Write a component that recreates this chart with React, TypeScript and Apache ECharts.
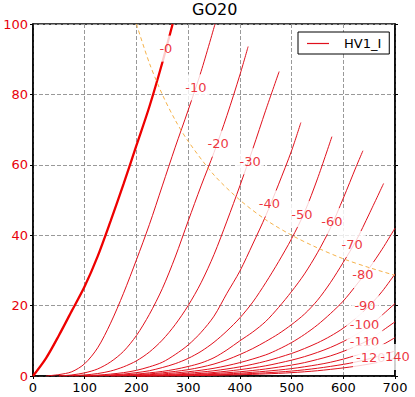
import React, { useEffect, useRef } from "react";
import * as echarts from "echarts";

// Anode voltage (V) vs anode current (mA) for each grid voltage
const curve0: [number, number][] = [[0,0],[25,5],[50,11.5],[75,18.5],[100,25.5],[125,34],[150,44],[175,54.5],[200,65.5],[225,76.5],[250,89],[270,100]];
const curveM10: [number, number][] = [[25,0],[50,0.4],[75,1.2],[100,3.5],[125,8],[150,15],[175,23.5],[200,33],[225,43],[250,54],[275,65],[300,75.5],[325,86.5],[352,100]];
const curveM20: [number, number][] = [[50,0],[75,0.3],[100,0.9],[125,2],[150,4],[175,7],[200,11.5],[225,17.5],[250,24.8],[275,33.8],[300,44],[325,54],[350,63.5],[375,74],[400,85.5],[416,93.6]];
const curveM30: [number, number][] = [[50,0],[75,0.1],[100,0.3],[125,0.7],[150,1.4],[175,2.6],[200,4.3],[225,6.8],[250,10.2],[275,14.6],[300,20],[325,26.5],[350,34.5],[375,44],[400,54],[425,64.5],[450,75.5],[476,86.5]];
const curveM40: [number, number][] = [[75,0],[100,0.1],[125,0.25],[150,0.55],[175,0.95],[200,1.6],[225,2.6],[250,3.9],[275,6.1],[300,8.8],[325,12.4],[350,17],[375,23.5],[400,29.8],[425,37.5],[450,45.5],[475,54.5],[500,64],[518,72]];
const curveM50: [number, number][] = [[100,0],[125,0.1],[150,0.3],[175,0.55],[200,0.95],[225,1.5],[250,2.4],[275,3.5],[300,5],[325,7],[350,9.6],[375,12.8],[400,16.5],[425,21],[450,26.5],[475,32.5],[500,39],[525,46.5],[550,56],[578,68]];
const curveM60: [number, number][] = [[100,0],[150,0.15],[200,0.55],[225,0.9],[250,1.3],[275,1.9],[300,2.7],[325,3.7],[350,5.2],[375,7.4],[400,10],[425,12.5],[450,15.5],[475,19.5],[500,24],[525,29],[550,35],[575,42],[600,50.5],[625,59.5],[638,64]];
const curveM70: [number, number][] = [[100,0],[150,0.1],[200,0.35],[225,0.6],[250,0.9],[275,1.3],[300,1.8],[325,2.5],[350,3.4],[375,4.6],[400,6.1],[425,7.8],[450,9.8],[475,12],[500,14.6],[525,17.6],[550,21.5],[575,26.5],[600,32.3],[625,38.5],[650,46],[678,54.7]];
const curveM80: [number, number][] = [[150,0],[200,0.2],[250,0.6],[300,1.2],[350,2.2],[400,3.8],[450,6],[475,7.6],[500,9.5],[525,11.8],[550,14.5],[575,17.7],[600,21.3],[625,25.8],[650,30.6],[675,36],[700,42]];
const curveM90: [number, number][] = [[150,0],[200,0.1],[250,0.35],[300,0.8],[350,1.5],[400,2.6],[450,4.2],[500,6.4],[525,7.8],[550,9.4],[575,11.3],[600,13.6],[625,16.5],[650,19.9],[675,24],[700,29]];
const curveM100: [number, number][] = [[200,0],[250,0.2],[300,0.5],[350,1],[400,1.8],[450,2.9],[500,4.5],[525,5.5],[550,6.7],[575,8.1],[600,9.8],[625,11.8],[650,14.2],[675,17.3],[700,20.6]];
const curveM110: [number, number][] = [[200,0],[250,0.12],[300,0.35],[350,0.7],[400,1.2],[450,2],[500,3.1],[525,3.8],[550,4.7],[575,5.7],[600,7],[625,8.5],[650,10.3],[675,12.8],[700,15.4]];
const curveM120: [number, number][] = [[200,0],[250,0.08],[300,0.2],[350,0.45],[400,0.8],[450,1.35],[500,2.1],[550,3.2],[575,3.9],[600,4.8],[625,5.9],[650,7.2],[675,8.8],[700,10.9]];
const curveM130: [number, number][] = [[200,0],[300,0.12],[350,0.3],[400,0.55],[450,0.9],[500,1.4],[550,2.2],[600,3.3],[625,4],[650,4.9],[675,5.9],[700,7.1]];
const curveM140: [number, number][] = [[200,0],[300,0.08],[350,0.2],[400,0.35],[450,0.6],[500,0.95],[550,1.5],[600,2.3],[625,2.8],[650,3.4],[675,4.1],[700,5]];

// Max dissipation line (orange dashed)
const powerLimit: [number, number][] = [[200,100],[225,88.9],[250,80],[275,72.7],[300,66.7],[350,57.1],[400,50],[450,44.4],[500,40],[550,36.4],[600,33.3],[650,30.8],[700,28.6]];

// Inline curve labels: [Va, Ia, text]
const curveLabels: [number, number, string][] = [
  [257, 93, "-0"], [315, 82, "-10"], [358, 66, "-20"], [420, 61, "-30"],
  [457, 49, "-40"], [520, 46, "-50"], [578, 44, "-60"], [617, 37.5, "-70"],
  [638, 28.7, "-80"], [642, 20, "-90"], [641, 14.5, "-100"], [641, 9.7, "-110"],
  [653, 5.2, "-120"], [700, 5.4, "-140"],
];

const xTicks = { min: 0, max: 700, interval: 100 };
const yTicks = { min: 0, max: 100, interval: 20 };

const thinCurves = [curveM10, curveM20, curveM30, curveM40, curveM50, curveM60, curveM70, curveM80, curveM90, curveM100, curveM110, curveM120, curveM130, curveM140];

const FONT = "DejaVu Sans";
const RED = "#e0101c";

export default function App() {
  const ref = useRef<HTMLDivElement>(null);
  useEffect(() => {
    if (!ref.current) return;
    const chart = echarts.init(ref.current, null, { renderer: "svg" });
    const gridLine = { show: true, lineStyle: { color: "#999", type: [4, 2], width: 1 } };
    const option: any = {
      animation: false,
      backgroundColor: "#fff",
      title: {
        text: "GO20",
        left: 192,
        top: 1,
        padding: 0,
        textStyle: { fontFamily: FONT, fontSize: 16, fontWeight: "normal", color: "#000" },
      },
      legend: {
        left: 298,
        top: 32,
        padding: [5, 8, 4, 9],
        itemWidth: 22,
        itemHeight: 1.2,
        borderColor: "#000",
        borderWidth: 1,
        backgroundColor: "#fff",
        data: [{ name: "HV1_I", icon: "rect", itemStyle: { color: RED } }],
        textStyle: { fontFamily: FONT, fontSize: 13, color: "#000", padding: [0, 0, 0, 10] },
      },
      grid: { left: 33, right: 20, top: 24, bottom: 21, show: true, borderColor: "#000", borderWidth: 1.5 },
      xAxis: [
        {
          type: "value", ...xTicks,
          axisLine: { show: true, lineStyle: { color: "#000", width: 1.5 } },
          axisTick: { show: true, inside: false, length: 3, lineStyle: { color: "#000" } },
          axisLabel: { color: "#000", fontFamily: FONT, fontSize: 13, margin: 5 },
          splitLine: gridLine,
        },
      ],
      yAxis: [
        {
          type: "value", ...yTicks,
          axisLine: { show: true, lineStyle: { color: "#000", width: 1.5 } },
          axisTick: { show: true, inside: false, length: 3, lineStyle: { color: "#000" } },
          axisLabel: { color: "#e8000b", fontFamily: FONT, fontSize: 13, margin: 5 },
          splitLine: gridLine,
        },
        {
          type: "value", ...yTicks, position: "right",
          axisLine: { show: true, lineStyle: { color: "#000", width: 1.5 } },
          axisTick: { show: true, inside: false, length: 3, lineStyle: { color: "#000" } },
          axisLabel: { show: false },
          splitLine: { show: false },
        },
      ],
      series: [
        {
          type: "line", name: "HV1_I", data: curve0, showSymbol: false, smooth: 0.3,
          lineStyle: { color: "#ee0000", width: 2.3 }, itemStyle: { color: RED }, z: 2, silent: true,
        },
        ...thinCurves.map((d) => ({
          type: "line", name: "HV1_I", data: d, showSymbol: false, smooth: 0.3,
          lineStyle: { color: RED, width: 1 }, itemStyle: { color: RED }, z: 2, silent: true,
        })),
        {
          type: "scatter", name: "labels", data: curveLabels, symbolSize: 0, z: 5, silent: true,
          label: {
            show: true, position: "inside",
            formatter: (p: any) => p.value[2],
            color: "#e8000b", fontFamily: FONT, fontSize: 13, lineHeight: 14,
            backgroundColor: "#fff", padding: [6, 3],
          },
        },
        {
          type: "line", name: "Pmax", data: powerLimit, showSymbol: false, smooth: 0.3, z: 6, silent: true,
          lineStyle: { color: "#f5b24a", width: 1, type: [4, 3] },
        },
      ],
    };
    chart.setOption(option);
    return () => chart.dispose();
  }, []);
  return (
    <div
      ref={ref}
      style={{ position: "fixed", left: 0, top: 0, width: 415, height: 397, background: "#fff" }}
    />
  );
}
